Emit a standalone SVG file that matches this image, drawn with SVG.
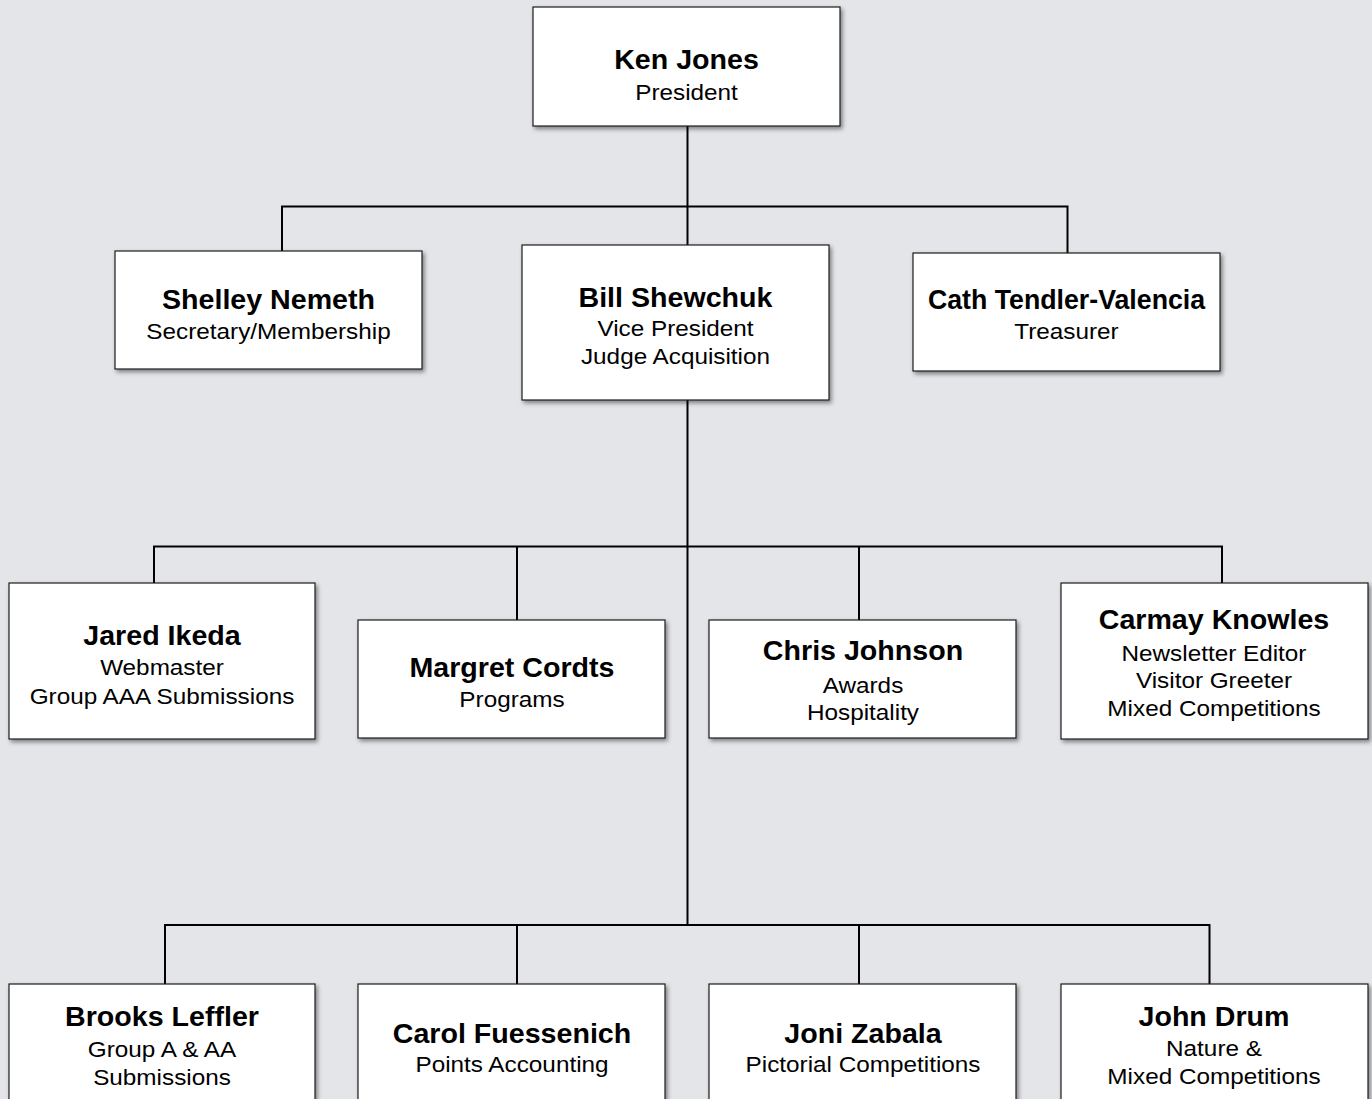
<svg xmlns="http://www.w3.org/2000/svg" width="1372" height="1099" viewBox="0 0 1372 1099">
<style>
.box{fill:#ffffff;stroke:#1c1c1c;stroke-width:1.2;filter:url(#sh)}
.n{font-family:"Liberation Sans",Arial,Helvetica,sans-serif;font-weight:bold;font-size:27px;fill:#000;text-anchor:middle}
.s{font-family:"Liberation Sans",Arial,Helvetica,sans-serif;font-size:22.5px;fill:#000;text-anchor:middle}
.c{fill:none;stroke:#000;stroke-width:2}
</style>
<defs>
<filter id="sh" x="-10%" y="-10%" width="125%" height="130%">
<feDropShadow dx="2" dy="2.5" stdDeviation="2" flood-color="#000" flood-opacity="0.45"/>
</filter>
</defs>
<rect width="1372" height="1099" fill="#e4e5e9"/>
<g id="connectors">
<path class="c" d="M687.5 126 V245"/>
<path class="c" d="M282 251 V206.5 H1067.5 V253"/>
<path class="c" d="M687.5 400 V925"/>
<path class="c" d="M154 583 V546.5 H1222 V583"/>
<path class="c" d="M517 620 V546.5"/>
<path class="c" d="M859 620 V546.5"/>
<path class="c" d="M165 984 V925 H1209.5 V984"/>
<path class="c" d="M517 984 V925"/>
<path class="c" d="M859 984 V925"/>
</g>
<g id="ken-jones">
<rect class="box" x="533" y="7" width="307" height="119"/>
<text class="n" transform="translate(686.5,69) scale(1.06,1)">Ken Jones</text>
<text class="s" transform="translate(686.5,99.5) scale(1.08,1)">President</text>
</g>
<g id="shelley-nemeth">
<rect class="box" x="115" y="251" width="307" height="118"/>
<text class="n" transform="translate(268.5,309) scale(1.06,1)">Shelley Nemeth</text>
<text class="s" transform="translate(268.5,339) scale(1.08,1)">Secretary/Membership</text>
</g>
<g id="bill-shewchuk">
<rect class="box" x="522" y="245" width="307" height="155"/>
<text class="n" transform="translate(675.5,306.5) scale(1.06,1)">Bill Shewchuk</text>
<text class="s" transform="translate(675.5,335.5) scale(1.08,1)">Vice President</text>
<text class="s" transform="translate(675.5,364) scale(1.08,1)">Judge Acquisition</text>
</g>
<g id="cath-tendler-valencia">
<rect class="box" x="913" y="253" width="307" height="118"/>
<text class="n" transform="translate(1066.5,308.5) scale(0.99,1)">Cath Tendler-Valencia</text>
<text class="s" transform="translate(1066.5,338.5) scale(1.08,1)">Treasurer</text>
</g>
<g id="jared-ikeda">
<rect class="box" x="9" y="583" width="306" height="156"/>
<text class="n" transform="translate(162,645) scale(1.06,1)">Jared Ikeda</text>
<text class="s" transform="translate(162,675) scale(1.08,1)">Webmaster</text>
<text class="s" transform="translate(162,703.5) scale(1.08,1)">Group AAA Submissions</text>
</g>
<g id="margret-cordts">
<rect class="box" x="358" y="620" width="307" height="118"/>
<text class="n" transform="translate(512,677) scale(1.06,1)">Margret Cordts</text>
<text class="s" transform="translate(512,706.5) scale(1.08,1)">Programs</text>
</g>
<g id="chris-johnson">
<rect class="box" x="709" y="620" width="307" height="118"/>
<text class="n" transform="translate(863,660) scale(1.06,1)">Chris Johnson</text>
<text class="s" transform="translate(863,692.5) scale(1.08,1)">Awards</text>
<text class="s" transform="translate(863,720) scale(1.08,1)">Hospitality</text>
</g>
<g id="carmay-knowles">
<rect class="box" x="1061" y="583" width="307" height="156"/>
<text class="n" transform="translate(1214,629) scale(1.06,1)">Carmay Knowles</text>
<text class="s" transform="translate(1214,660.5) scale(1.08,1)">Newsletter Editor</text>
<text class="s" transform="translate(1214,688) scale(1.08,1)">Visitor Greeter</text>
<text class="s" transform="translate(1214,716) scale(1.08,1)">Mixed Competitions</text>
</g>
<g id="brooks-leffler">
<rect class="box" x="9" y="984" width="306" height="140"/>
<text class="n" transform="translate(162,1026) scale(1.06,1)">Brooks Leffler</text>
<text class="s" transform="translate(162,1056.5) scale(1.08,1)">Group A &amp; AA</text>
<text class="s" transform="translate(162,1084.5) scale(1.08,1)">Submissions</text>
</g>
<g id="carol-fuessenich">
<rect class="box" x="358" y="984" width="307" height="140"/>
<text class="n" transform="translate(512,1042.5) scale(1.06,1)">Carol Fuessenich</text>
<text class="s" transform="translate(512,1072) scale(1.08,1)">Points Accounting</text>
</g>
<g id="joni-zabala">
<rect class="box" x="709" y="984" width="307" height="140"/>
<text class="n" transform="translate(863,1042.5) scale(1.06,1)">Joni Zabala</text>
<text class="s" transform="translate(863,1072) scale(1.08,1)">Pictorial Competitions</text>
</g>
<g id="john-drum">
<rect class="box" x="1061" y="984" width="307" height="140"/>
<text class="n" transform="translate(1214,1026) scale(1.06,1)">John Drum</text>
<text class="s" transform="translate(1214,1055.5) scale(1.08,1)">Nature &amp;</text>
<text class="s" transform="translate(1214,1084) scale(1.08,1)">Mixed Competitions</text>
</g>
</svg>
